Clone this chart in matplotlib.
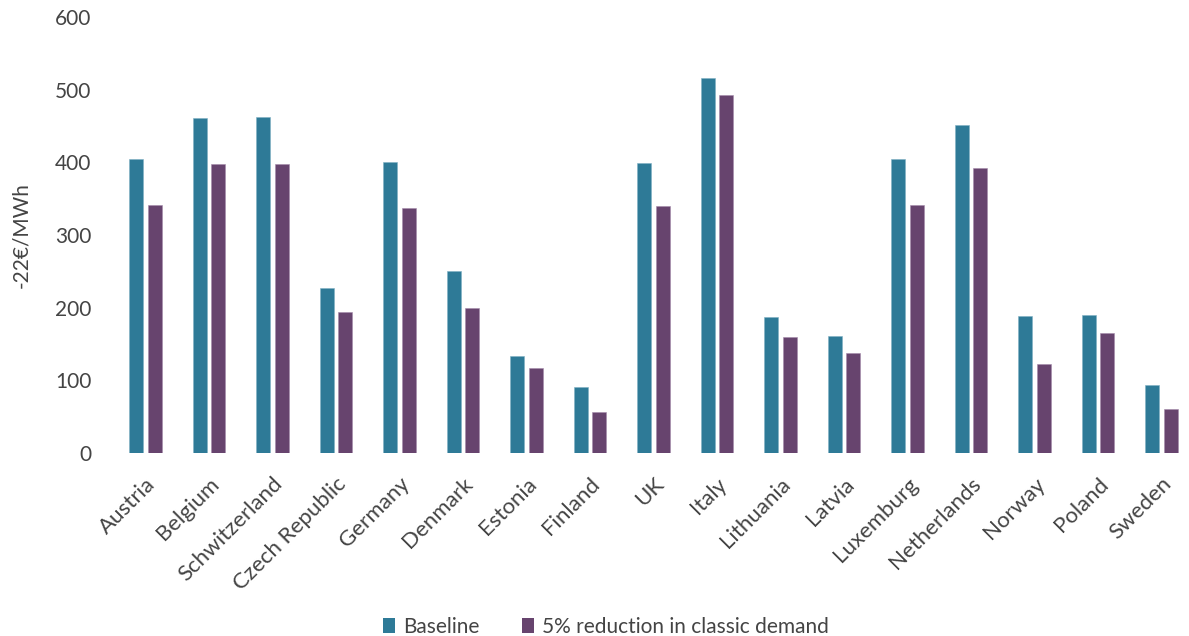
import matplotlib
matplotlib.use("Agg")
import matplotlib.pyplot as plt
import numpy as np
from matplotlib.patches import Patch

countries = ["Austria", "Belgium", "Schwitzerland", "Czech Republic", "Germany", "Denmark",
             "Estonia", "Finland", "UK", "Italy", "Lithuania", "Latvia", "Luxemburg",
             "Netherlands", "Norway", "Poland", "Sweden"]
baseline = [405, 461, 462, 227, 400, 250, 134, 91, 399, 516, 187, 161, 405, 452, 188, 190, 93]
reduction = [341, 398, 398, 194, 337, 199, 117, 56, 340, 492, 160, 138, 341, 392, 123, 165, 60]
series_names = ["Baseline", "5% reduction in classic demand"]
yticks = [0, 100, 200, 300, 400, 500, 600]
ylabel = "-22€/MWh"

teal = "#2E7A97"
purple = "#67446E"
txt = "#444444"
fs = 15

plt.rcParams['font.family'] = ['Lato', 'DejaVu Sans']

W, H = 1189, 636
fig = plt.figure(figsize=(W / 100, H / 100), dpi=100)
left = 113.75 / W
bottom = (H - 453) / H
width = (63.5 * 17) / W
height = 436 / H
ax = fig.add_axes([left, bottom, width, height])

x = np.arange(len(countries))
bw = 0.225
off = 0.144
ax.bar(x - off, baseline, bw, color=teal, edgecolor="#7fb0c4", linewidth=0.4)
ax.bar(x + off, reduction, bw, color=purple, edgecolor="#a58aab", linewidth=0.4)

ax.set_xlim(-0.5, 16.5)
ax.set_ylim(0, 600)
ax.set_yticks(yticks)
ax.set_yticklabels([str(v) for v in yticks], fontsize=fs, color=txt)
ax.tick_params(axis='y', length=0, pad=16)
ax.set_xticks(x)
ax.set_xticklabels(countries, rotation=45, ha='right', rotation_mode='anchor',
                   fontsize=16, color=txt)
ax.tick_params(axis='x', length=0, pad=15)
for s in ax.spines.values():
    s.set_visible(False)

ax.set_ylabel(ylabel, fontsize=fs, color=txt)
ax.yaxis.set_label_coords(-0.076, 0.5)

handles = [Patch(facecolor=teal, edgecolor='none'), Patch(facecolor=purple, edgecolor='none')]
fig.legend(handles, series_names, loc='center', bbox_to_anchor=(606 / W, 1 - 627 / H),
           ncol=2, frameon=False, handlelength=0.6, handleheight=0.7,
           handletextpad=0.4, columnspacing=2.0, labelcolor=txt,
           prop={'size': 15})

fig.savefig("out.png", dpi=100)
